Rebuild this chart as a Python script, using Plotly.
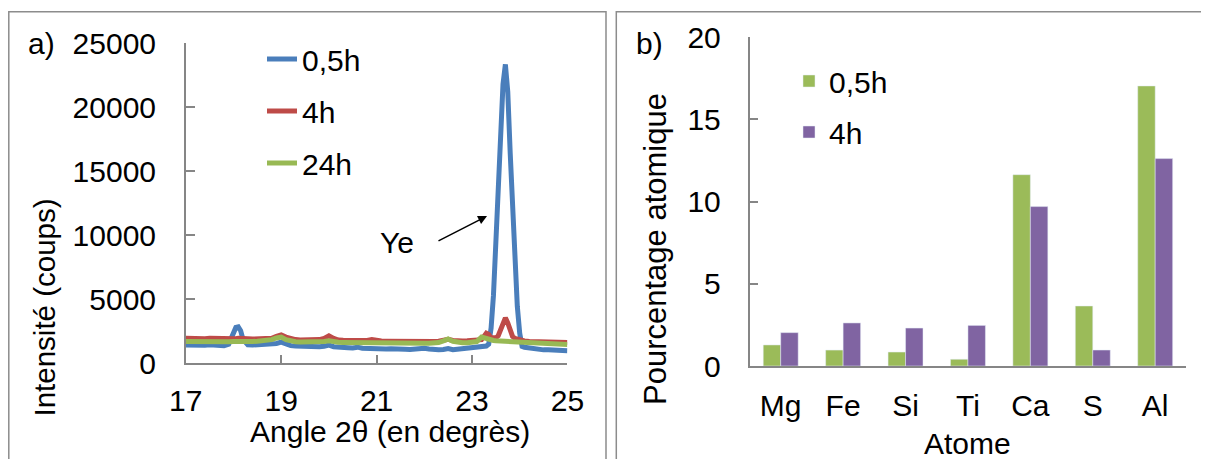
import plotly.graph_objects as go

# ---------------- Panel a data (XRD) ----------------
angle = [17.0, 17.1, 17.2, 17.3, 17.4, 17.5, 17.6, 17.7, 17.8, 17.9,
         18.0, 18.05, 18.1, 18.15, 18.2, 18.3, 18.4, 18.5, 18.6, 18.7,
         18.8, 18.9, 19.0, 19.1, 19.2, 19.3, 19.4, 19.5, 19.6, 19.7,
         19.8, 19.9, 20.0, 20.1, 20.2, 20.3, 20.4, 20.5, 20.6, 20.7,
         20.8, 20.9, 21.0, 21.1, 21.2, 21.3, 21.4, 21.5, 21.6, 21.7,
         21.8, 21.9, 22.0, 22.1, 22.2, 22.3, 22.4, 22.5, 22.6, 22.7,
         22.8, 22.9, 23.0, 23.1, 23.2, 23.3, 23.35, 23.4, 23.45, 23.5,
         23.55, 23.6, 23.65, 23.7, 23.75, 23.8, 23.85, 23.9, 23.95, 24.0,
         24.05, 24.1, 24.2, 24.3, 24.4, 24.5, 24.6, 24.7, 24.8, 24.9, 25.0]

int_05h = [1420, 1400, 1430, 1390, 1410, 1440, 1400, 1420, 1380, 1500,
           2450, 2800, 2850, 2550, 1850, 1450, 1430, 1450, 1420, 1440,
           1480, 1550, 1650, 1500, 1380, 1350, 1330, 1300, 1320, 1280,
           1300, 1330, 1420, 1300, 1250, 1270, 1220, 1200, 1260, 1180,
           1150, 1170, 1160, 1150, 1120, 1140, 1100, 1120, 1100, 1080,
           1110, 1160, 1180, 1120, 1070, 1050, 1080, 1150, 1060, 1100,
           1150, 1180, 1200, 1220, 1280, 1350, 1500, 2750, 5300, 9250,
           13300, 17400, 21800, 23350, 21200, 16500, 12400, 8400, 4450, 2350,
           1320, 1250, 1180, 1120, 1080, 1050, 1060, 1040, 1050, 1020, 980]

int_4h = [1950, 1930, 1960, 1940, 1920, 1950, 1930, 1910, 1940, 1920,
          1930, 1920, 1950, 1920, 1900, 1910, 1890, 1900, 1880, 1900,
          1950, 2100, 2220, 2050, 1900, 1850, 1830, 1840, 1820, 1830,
          1850, 1950, 2150, 1950, 1820, 1800, 1790, 1780, 1770, 1760,
          1780, 1850, 1760, 1740, 1730, 1720, 1730, 1710, 1720, 1700,
          1710, 1700, 1690, 1700, 1710, 1730, 1780, 1880, 1780, 1740,
          1750, 1760, 1770, 1780, 1850, 2350, 2250, 2000, 1950, 1990,
          2150, 2650, 3300, 3550, 3150, 2500, 2100, 1950, 1880, 1820,
          1780, 1750, 1700, 1680, 1660, 1650, 1660, 1640, 1650, 1640, 1630]

int_24h = [1700, 1690, 1710, 1700, 1680, 1700, 1690, 1710, 1700, 1690,
           1700, 1690, 1700, 1690, 1700, 1710, 1700, 1720, 1740, 1760,
           1850, 1980, 2050, 1850, 1720, 1680, 1660, 1650, 1640, 1650,
           1660, 1700, 1760, 1680, 1640, 1630, 1620, 1630, 1610, 1620,
           1610, 1620, 1600, 1600, 1590, 1580, 1590, 1570, 1580, 1570,
           1560, 1570, 1560, 1570, 1580, 1620, 1750, 1900, 1720, 1620,
           1600, 1610, 1620, 1700, 2050, 1900, 1830, 1800, 1780, 1760,
           1750, 1740, 1730, 1720, 1710, 1700, 1690, 1680, 1670, 1660,
           1650, 1640, 1620, 1600, 1580, 1560, 1550, 1530, 1510, 1490, 1470]

# ---------------- Panel b data (composition) ----------------
atomes = ["Mg", "Fe", "Si", "Ti", "Ca", "S", "Al"]
pct_05h = [1.28, 0.97, 0.85, 0.41, 11.64, 3.65, 17.04]
pct_4h = [2.03, 2.62, 2.31, 2.47, 9.70, 0.97, 12.62]

W, H = 1209, 459
OFF = 8  # the page body margin shifts the figure by 8 px
FONT = "Liberation Sans, Arial, sans-serif"
FS = 30
AXC = "#868686"

def px_x(p):
    return (p - OFF) / W

def px_y(p):
    return 1 - (p - OFF) / H

fig = go.Figure()

fig.add_trace(go.Scatter(x=angle, y=int_05h, mode="lines", name="0,5h",
                         line=dict(color="#4A7EBB", width=5),
                         xaxis="x", yaxis="y", legend="legend", legendgroup="a1"))
fig.add_trace(go.Scatter(x=angle, y=int_4h, mode="lines", name="4h",
                         line=dict(color="#BE4B48", width=5),
                         xaxis="x", yaxis="y", legend="legend", legendgroup="a2"))
fig.add_trace(go.Scatter(x=angle, y=int_24h, mode="lines", name="24h",
                         line=dict(color="#98B954", width=5),
                         xaxis="x", yaxis="y", legend="legend", legendgroup="a3"))

fig.add_trace(go.Bar(x=atomes, y=pct_05h, name="0,5h", marker_color="#9BBB59",
                     xaxis="x2", yaxis="y2", legend="legend2", legendgroup="b1"))
fig.add_trace(go.Bar(x=atomes, y=pct_4h, name="4h", marker_color="#8064A2",
                     xaxis="x2", yaxis="y2", legend="legend2", legendgroup="b2"))

tickfont = dict(family=FONT, size=FS, color="black")

def txt(text, x, y, size=FS, angle=0):
    return dict(text=text, xref="paper", yref="paper", x=px_x(x), y=px_y(y),
                xanchor="center", yanchor="middle", showarrow=False,
                textangle=angle, font=dict(family=FONT, size=size, color="black"))

fig.update_layout(
    width=W, height=H,
    margin=dict(l=0, r=0, t=0, b=0, autoexpand=False),
    paper_bgcolor="white", plot_bgcolor="white",
    font=dict(family=FONT, size=FS, color="black"),
    barmode="group", bargap=0.44, bargroupgap=0,
    xaxis=dict(domain=[px_x(185.8), px_x(567.4)], anchor="y", range=[17, 25],
               dtick=2, tick0=17, showgrid=False, zeroline=False, automargin=False,
               showline=True, linecolor=AXC, linewidth=1.5,
               ticks="inside", ticklen=9, tickcolor=AXC, tickwidth=1.5,
               tickfont=tickfont, ticklabelstandoff=10),
    yaxis=dict(domain=[px_y(363.3), px_y(43.3)], anchor="x", range=[0, 25000],
               dtick=5000, tickformat="d", showgrid=False, zeroline=False, automargin=False,
               showline=True, linecolor=AXC, linewidth=1.5,
               ticks="inside", ticklen=9, tickcolor=AXC, tickwidth=1.5,
               tickfont=tickfont, ticklabelstandoff=22),
    xaxis2=dict(domain=[px_x(749.5), px_x(1186.4)], anchor="y2",
                range=[-0.5, 6.5], showgrid=False, zeroline=False, automargin=False,
                showline=True, linecolor=AXC, linewidth=1.5, ticks="",
                tickfont=tickfont, ticklabelstandoff=12),
    yaxis2=dict(domain=[px_y(366), px_y(37.3)], anchor="x2", range=[0, 20],
                dtick=5, showgrid=False, zeroline=False, automargin=False,
                showline=True, linecolor=AXC, linewidth=1.5,
                ticks="inside", ticklen=9, tickcolor=AXC, tickwidth=1.5,
                tickfont=tickfont, ticklabelstandoff=21),
    legend=dict(x=px_x(262), y=px_y(33), xanchor="left", yanchor="top",
                bgcolor="rgba(0,0,0,0)", font=dict(family=FONT, size=FS, color="black"),
                tracegroupgap=10, itemwidth=30),
    legend2=dict(x=px_x(789), y=px_y(55), xanchor="left", yanchor="top",
                 bgcolor="rgba(0,0,0,0)", font=dict(family=FONT, size=FS, color="black"),
                 tracegroupgap=9, itemwidth=30),
    shapes=[
        dict(type="rect", xref="paper", yref="paper", x0=px_x(8.8), x1=px_x(606),
             y0=-0.05, y1=px_y(11.7), line=dict(color="#8C8C8C", width=1.5)),
        dict(type="rect", xref="paper", yref="paper", x0=px_x(616.3), x1=px_x(1204.5),
             y0=-0.05, y1=px_y(11.7), line=dict(color="#8C8C8C", width=1.5)),
    ],
    annotations=[
        txt("a)", 41, 43),
        txt("b)", 649, 43),
        txt("Intensité (coups)", 44, 307.5, size=29.5, angle=-90),
        txt("Angle 2θ (en degrès)", 389.5, 431.7),
        txt("Pourcentage atomique", 656, 249, size=31, angle=-90),
        txt("Atome", 967, 443),
        dict(text="Ye", xref="x", yref="y", x=21.43, y=9400, showarrow=False,
             font=dict(family=FONT, size=FS, color="black")),
        dict(text="", xref="x", yref="y", x=23.315, y=11508,
             axref="x", ayref="y", ax=22.266, ay=9500,
             showarrow=True, arrowhead=2, arrowsize=1.2, arrowwidth=1.5,
             arrowcolor="black"),
    ],
)

fig.write_html("out.html")
